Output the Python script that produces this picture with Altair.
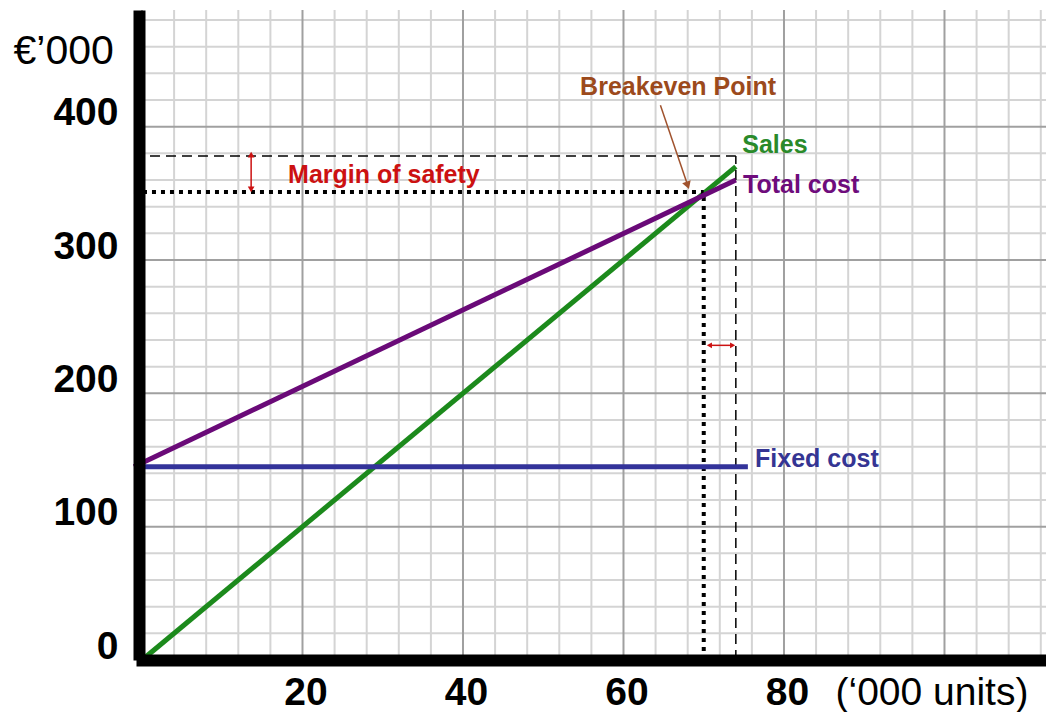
import altair as alt
import pandas as pd

# ---------------- data ----------------
units_sales = [0, 74]
sales = [0, 370]
units_total = [-1, 74]
total_cost = [145, 360]
units_fixed = [-1, 75.5]
fixed_cost = [145, 145]

breakeven_units = 70
breakeven_value = 351
actual_units = 74
actual_sales = 378

# margin of safety arrows (units, value)
mos_vert_units = 13.6
mos_vert_values = [353, 379]
mos_horiz_value = 236
mos_horiz_units = [70.7, 73.6]

# breakeven pointer (from, to)
be_arrow_units = [64.6, 68.0]
be_arrow_values = [416, 356]

x_tick_labels = [20, 40, 60, 80]
y_tick_labels = [0, 100, 200, 300, 400]
x_grid_minor = [v for v in range(0, 113, 4) if v % 20]
x_grid_major = [v for v in range(0, 113, 4) if v % 20 == 0]
y_grid_minor = [v for v in range(0, 488, 20) if v % 100]
y_grid_major = [v for v in range(0, 488, 20) if v % 100 == 0]

label_texts = ["Breakeven Point", "Sales", "Total cost", "Fixed cost", "Margin of safety"]
label_units = [66.8, 74.8, 74.9, 76.4, 18.2]
label_values = [424, 380, 350, 145, 358]
label_colors = ["#9c4a1c", "#2a8a2a", "#6e0c7c", "#353593", "#cc1111"]
label_align = ["center", "left", "left", "left", "left"]

X_MAX = 112.65
Y_MAX = 487.5

FONT = "Liberation Sans"

xs = alt.Scale(domain=[0, X_MAX], nice=False, zero=False)
ys = alt.Scale(domain=[0, Y_MAX], nice=False, zero=False)

x_axis = alt.Axis(
    values=x_tick_labels,
    grid=False,
    domain=True, domainColor="black", domainWidth=12, domainCap="square",
    ticks=False, tickSize=0,
    labelFont=FONT, labelFontWeight="bold", labelFontSize=39, labelColor="black",
    labelBaseline="alphabetic", labelPadding=44, labelOffset=3,
    labelOverlap=False, labelFlush=False,
    title="(\u2018000 units)", titleFont=FONT, titleFontWeight="normal", titleFontSize=39,
    titleColor="black", titleAlign="left", titleBaseline="alphabetic", titleAngle=0,
    titleX=693, titleY=44,
    zindex=1,
)
y_axis = alt.Axis(
    values=y_tick_labels,
    grid=False,
    offset=3,
    domain=True, domainColor="black", domainWidth=12,
    ticks=False, tickSize=0,
    labelFont=FONT, labelFontWeight="bold", labelFontSize=39, labelColor="black",
    labelBaseline="alphabetic", labelPadding=21, labelOffset=-2, labelAlign="right",
    labelOverlap=False, labelFlush=False,
    title="\u20ac\u2019000", titleFont=FONT, titleFontWeight="normal", titleFontSize=41,
    titleColor="black", titleAlign="left", titleBaseline="alphabetic", titleAngle=0,
    titleX=-126, titleY=53,
    zindex=1,
)


# every layer carries the same axis definition so that the shared axes merge cleanly
def X(field="u"):
    return alt.X(f"{field}:Q", scale=xs, axis=x_axis)


def Y(field="v"):
    return alt.Y(f"{field}:Q", scale=ys, axis=y_axis)


# grid
def vgrid(vals, color):
    return alt.Chart(pd.DataFrame({"u": vals})).mark_rule(color=color, strokeWidth=2).encode(x=X())


def hgrid(vals, color):
    return alt.Chart(pd.DataFrame({"v": vals})).mark_rule(color=color, strokeWidth=2).encode(y=Y())


MINOR = "#d4d4d4"
MAJOR = "#a0a0a0"
grid = [vgrid(x_grid_minor, MINOR), hgrid(y_grid_minor, MINOR),
        vgrid(x_grid_major, MAJOR), hgrid(y_grid_major, MAJOR)]


def line(xv, yv, color):
    return alt.Chart(pd.DataFrame({"u": xv, "v": yv})).mark_line(
        color=color, strokeWidth=5, clip=False).encode(x=X(), y=Y())


sales_line = line(units_sales, sales, "#1c8a1c")
total_line = line(units_total, total_cost, "#6a0a78")
fixed_line = line(units_fixed, fixed_cost, "#33339a")


def hrule(x0, x1, y, **mk):
    df = pd.DataFrame({"u": [x0], "u2": [x1], "v": [y]})
    return alt.Chart(df).mark_rule(clip=False, **mk).encode(x=X(), x2="u2:Q", y=Y())


def vrule(x, y0, y1, **mk):
    df = pd.DataFrame({"u": [x], "v": [y0], "v2": [y1]})
    return alt.Chart(df).mark_rule(clip=False, **mk).encode(x=X(), y=Y(), y2="v2:Q")


dotted = dict(color="black", strokeWidth=4, strokeDash=[4, 5])
dashed = dict(color="black", strokeWidth=1.5, strokeDash=[10, 6])

be_h = hrule(units_total[0], breakeven_units, breakeven_value, **dotted)
be_v = vrule(breakeven_units, 0, breakeven_value, **dotted)
act_h = hrule(units_total[0], actual_units, actual_sales, **dashed)
act_v = vrule(actual_units, 0, actual_sales, **dashed)

RED = "#cc1111"
mos_v = vrule(mos_vert_units, mos_vert_values[0], mos_vert_values[1], color=RED, strokeWidth=1.5)
mos_h = hrule(mos_horiz_units[0], mos_horiz_units[1], mos_horiz_value, color=RED, strokeWidth=1.5)


def head(x, y, shape, color, size, angle=0):
    df = pd.DataFrame({"u": [x], "v": [y]})
    return alt.Chart(df).mark_point(shape=shape, filled=True, color=color, size=size,
                                    angle=angle, opacity=1, clip=False).encode(x=X(), y=Y())


mos_heads = [
    head(mos_vert_units, mos_vert_values[1], "triangle-up", RED, 45),
    head(mos_vert_units, mos_vert_values[0], "triangle-down", RED, 45),
    head(mos_horiz_units[0], mos_horiz_value, "triangle-left", RED, 35),
    head(mos_horiz_units[1], mos_horiz_value, "triangle-right", RED, 35),
]

BROWN = "#a0522d"
be_arrow_df = pd.DataFrame({"u": [be_arrow_units[0]], "u2": [be_arrow_units[1]],
                            "v": [be_arrow_values[0]], "v2": [be_arrow_values[1]]})
be_arrow = alt.Chart(be_arrow_df).mark_rule(color=BROWN, strokeWidth=1.5, clip=False).encode(
    x=X(), x2="u2:Q", y=Y(), y2="v2:Q")
be_head = head(be_arrow_units[1], be_arrow_values[1], "triangle-down", BROWN, 80, angle=341)

texts = []
for t, u, v, col, al in zip(label_texts, label_units, label_values, label_colors, label_align):
    df = pd.DataFrame({"u": [u], "v": [v], "t": [t]})
    texts.append(
        alt.Chart(df).mark_text(font=FONT, fontWeight="bold", fontSize=25, color=col,
                                align=al, baseline="alphabetic", clip=False).encode(
            x=X(), y=Y(), text="t:N")
    )

chart = alt.layer(
    *grid,
    sales_line, act_h, act_v, be_h, be_v, fixed_line, total_line,
    mos_v, mos_h, *mos_heads, be_arrow, be_head, *texts,
).properties(
    width=904, height=650,
    autosize=alt.AutoSizeParams(type="none"),
    padding={"left": 134, "top": 2, "right": 0, "bottom": 52},
    background="white",
).configure_view(strokeWidth=0)

chart.save("out.html", embed_options={"renderer": "svg", "actions": False})
